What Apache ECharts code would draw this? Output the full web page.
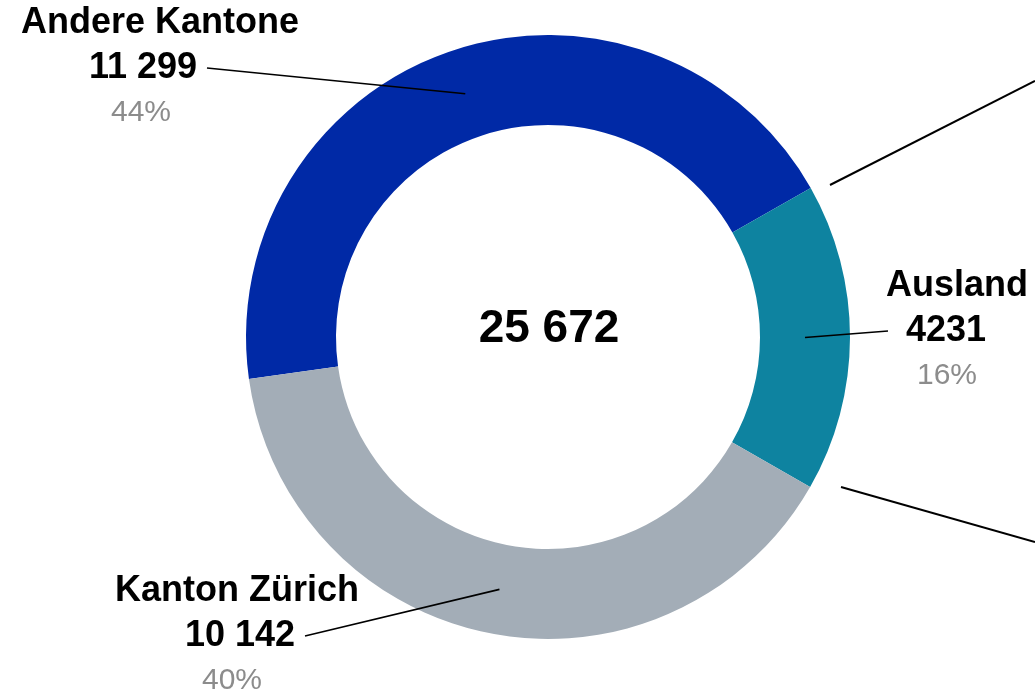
<!DOCTYPE html>
<html>
<head>
<meta charset="utf-8">
<script src="https://cdn.jsdelivr.net/npm/echarts@6/dist/echarts.min.js"></script>
<style>
html, body { margin: 0; padding: 0; background: #fff; }
#chart { width: 1035px; height: 693px; }
</style>
</head>
<body>
<div id="chart"></div>
<script>
var categories = ['Andere Kantone', 'Ausland', 'Kanton Zürich'];
var values = [11299, 4231, 10142];
var colors = ['#0029a6', '#0e83a0', '#a3adb7'];

// where each label sits (centre of the value line), where its line ends,
// and how far value / percent are nudged against the name
var labelPos = [
    { x: 160, y: 68, lineX: 207, shift: -17, pctShift: -19 },
    { x: 957, y: 331, lineX: 888, shift: -11, pctShift: -10 },
    { x: 237, y: 636, lineX: 305, shift: 3, pctShift: -5 }
];

var FONT = '"Liberation Sans", Arial, sans-serif';
var CX = 548, CY = 337;

function fmt(n) {
    // swiss style: no separator for 4 digits, space otherwise
    if (n < 10000) return String(n);
    return String(n).replace(/\B(?=(\d{3})+(?!\d))/g, ' ');
}

function pad(s) {
    return s < 0 ? [0, -2 * s, 0, 0] : [0, 0, 0, 2 * s];
}

function richFor(i) {
    var c = labelPos[i];
    return {
        n: { fontFamily: FONT, fontSize: 36, fontWeight: 'bold', color: '#000', lineHeight: 45 },
        v: { fontFamily: FONT, fontSize: 36, fontWeight: 'bold', color: '#000', lineHeight: 45, padding: pad(c.shift) },
        p: { fontFamily: FONT, fontSize: 30, color: '#8c8c8c', lineHeight: 45, padding: pad(c.pctShift) }
    };
}

var total = 0;
for (var i = 0; i < values.length; i++) total += values[i];

var ringData = [], labelData = [];
for (var i = 0; i < categories.length; i++) {
    ringData.push({ name: categories[i], value: values[i], itemStyle: { color: colors[i] } });
    labelData.push({ name: categories[i], value: values[i], label: { rich: richFor(i) } });
}

var chart = echarts.init(document.getElementById('chart'), null, { renderer: 'canvas' });

var option = {
    animation: false,
    backgroundColor: '#fff',
    graphic: [
        {
            type: 'text', x: 549, y: 329, z: 10,
            style: { text: fmt(total), font: 'bold 46px ' + FONT, fill: '#000', textAlign: 'center', textVerticalAlign: 'middle' }
        },
        // connectors towards the (cut off) breakdown of Ausland
        { type: 'line', shape: { x1: 830, y1: 185, x2: 1035, y2: 81 }, style: { stroke: '#000', lineWidth: 2 } },
        { type: 'line', shape: { x1: 841, y1: 487, x2: 1035, y2: 542 }, style: { stroke: '#000', lineWidth: 2 } }
    ],
    series: [
        {
            type: 'pie',
            z: 2,
            center: [CX, CY],
            radius: [212, 302],
            startAngle: 188,
            silent: true,
            label: { show: false },
            labelLine: { show: false },
            itemStyle: { borderWidth: 0 },
            data: ringData
        },
        {
            // invisible pie up to mid ring, only carries the labels
            type: 'pie',
            z: 5,
            center: [CX, CY],
            radius: [0, 257],
            startAngle: 188,
            silent: true,
            percentPrecision: 0,
            itemStyle: { color: 'rgba(0,0,0,0)' },
            label: {
                show: true,
                position: 'outside',
                color: '#000',
                formatter: function(p) {
                    return '{n|' + p.name + '}\n{v|' + fmt(p.value) + '}\n{p|' + p.percent + '%}';
                }
            },
            labelLine: { show: true, length: 10, length2: 10, lineStyle: { color: '#000', width: 1.6 } },
            labelLayout: function(params) {
                var c = labelPos[params.dataIndex];
                var start = params.labelLinePoints ? params.labelLinePoints[0] : [CX, CY];
                return {
                    x: c.x, y: c.y,
                    align: 'center', verticalAlign: 'middle',
                    labelLinePoints: [start, [c.lineX, c.y]]
                };
            },
            data: labelData
        }
    ]
};

chart.setOption(option);
</script>
</body>
</html>
